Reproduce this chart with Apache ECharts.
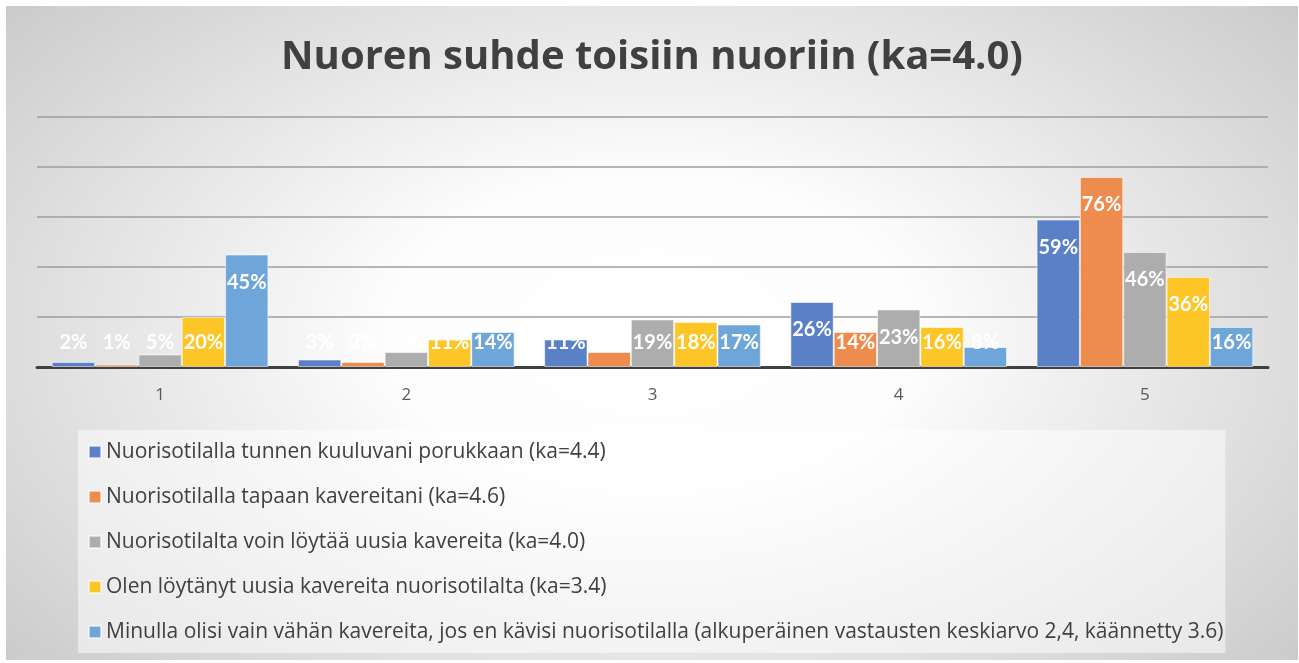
<!DOCTYPE html>
<html>
<head>
<meta charset="utf-8">
<script src="https://cdn.jsdelivr.net/npm/echarts@6/dist/echarts.min.js"></script>
<style>
html,body{margin:0;padding:0;background:#fff;width:1299px;height:663px;overflow:hidden;}
#chart{position:absolute;left:6px;top:6px;width:1292px;height:654px;
background:radial-gradient(ellipse 72% 85% at 50% 50%, #ffffff 0%, #fdfdfd 28%, #c4c4c4 100%);}
</style>
</head>
<body>
<div id="chart"></div>
<script>
const categories = ['1', '2', '3', '4', '5'];
const seriesNames = [
  'Nuorisotilalla tunnen kuuluvani porukkaan (ka=4.4)',
  'Nuorisotilalla tapaan kavereitani (ka=4.6)',
  'Nuorisotilalta voin löytää uusia kavereita (ka=4.0)',
  'Olen löytänyt uusia kavereita nuorisotilalta (ka=3.4)',
  'Minulla olisi vain vähän kavereita, jos en kävisi nuorisotilalla (alkuperäinen vastausten keskiarvo 2,4, käännetty 3.6)'
];
const s1 = [2, 3, 11, 26, 59];
const s2 = [1, 2, 6, 14, 76];
const s3 = [5, 6, 19, 23, 46];
const s4 = [20, 11, 18, 16, 36];
const s5 = [45, 14, 17, 8, 16];
const colors = ['#5a80c8', '#ee8c4e', '#adadad', '#fdc526', '#6fa6da'];

const allData = [s1, s2, s3, s4, s5];
const chart = echarts.init(document.getElementById('chart'), null, {renderer: 'canvas'});
const option = {
  backgroundColor: 'transparent',
  title: {
    text: 'Nuoren suhde toisiin nuoriin (ka=4.0)',
    left: 'center',
    top: 27,
    textStyle: {fontFamily: 'Open Sans', fontWeight: 'bold', fontSize: 40, color: '#404040'}
  },
  legend: {
    orient: 'vertical',
    left: 72,
    top: 424,
    padding: [10, 2, 9, 10],
    itemGap: 21,
    itemWidth: 12,
    itemHeight: 12,
    icon: 'rect',
    backgroundColor: 'rgba(255,255,255,0.5)',
    textStyle: {fontFamily: 'Open Sans', fontSize: 21, color: '#404040', lineHeight: 24},
    data: seriesNames
  },
  grid: {left: 31, right: 30, top: 111, bottom: 293},
  xAxis: {
    type: 'category',
    data: categories,
    axisLine: {lineStyle: {color: '#404040', width: 3}},
    axisTick: {show: false},
    axisLabel: {fontFamily: 'Open Sans', fontSize: 17, color: '#595959', margin: 20}
  },
  yAxis: {
    type: 'value',
    min: 0, max: 100, interval: 20,
    axisLabel: {show: false},
    axisLine: {show: false},
    axisTick: {show: false},
    splitLine: {lineStyle: {color: '#9e9e9e', width: 1.5}}
  },
  series: allData.map((d, i) => ({
    name: seriesNames[i],
    type: 'bar',
    data: d,
    barGap: '0%',
    barCategoryGap: '12%',
    itemStyle: {color: colors[i], borderColor: 'rgba(255,255,255,0.55)', borderWidth: 1},
    label: {
      show: true,
      formatter: '{c}%',
      color: '#ffffff',
      fontFamily: 'Lato',
      fontWeight: 'bold',
      fontSize: 20
    },
    labelLayout: function (p) {
      const r = p.rect;
      const y = Math.min(r.y + 28, r.y + r.height - 24);
      return {x: r.x + r.width / 2, y: y, align: 'center', verticalAlign: 'middle'};
    }
  }))
};
chart.setOption(option);
</script>
</body>
</html>
